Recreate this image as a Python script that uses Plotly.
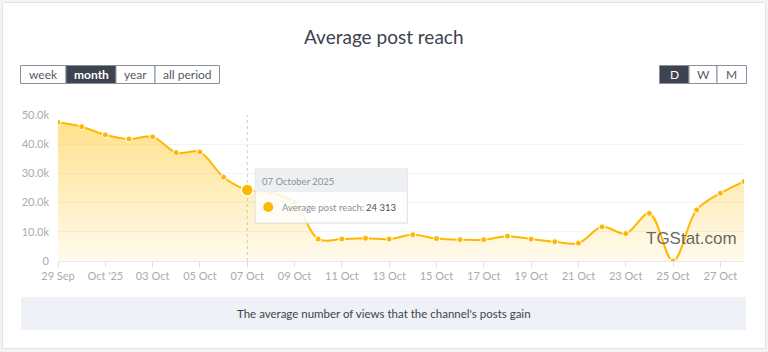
import datetime as dt
import plotly.graph_objects as go

# ---------------- data ----------------
dates = [
    "2025-09-29", "2025-09-30", "2025-10-01", "2025-10-02", "2025-10-03",
    "2025-10-04", "2025-10-05", "2025-10-06", "2025-10-07", "2025-10-08",
    "2025-10-09", "2025-10-10", "2025-10-11", "2025-10-12", "2025-10-13",
    "2025-10-14", "2025-10-15", "2025-10-16", "2025-10-17", "2025-10-18",
    "2025-10-19", "2025-10-20", "2025-10-21", "2025-10-22", "2025-10-23",
    "2025-10-24", "2025-10-25", "2025-10-26", "2025-10-27", "2025-10-28",
]
reach = [
    47500, 46000, 43200, 41800, 42500,
    37100, 37300, 28700, 24313, 23400,
    20000, 7500, 7500, 7800, 7500,
    9000, 7700, 7300, 7300, 8500,
    7500, 6600, 6100, 11700, 9400,
    16300, 0, 17500, 23200, 27200,
]
x_tick_vals = [
    "2025-09-29", "2025-10-01", "2025-10-03", "2025-10-05", "2025-10-07",
    "2025-10-09", "2025-10-11", "2025-10-13", "2025-10-15", "2025-10-17",
    "2025-10-19", "2025-10-21", "2025-10-23", "2025-10-25", "2025-10-27",
]
x_tick_text = [
    "29 Sep", "Oct '25", "03 Oct", "05 Oct", "07 Oct", "09 Oct", "11 Oct",
    "13 Oct", "15 Oct", "17 Oct", "19 Oct", "21 Oct", "23 Oct", "25 Oct", "27 Oct",
]
y_tick_vals = [0, 10000, 20000, 30000, 40000, 50000]
y_tick_text = ["0", "10.0k", "20.0k", "30.0k", "40.0k", "50.0k"]

title_text = "Average post reach"
series_name = "Average post reach"
caption_text = "The average number of views that the channel's posts gain"
watermark_text = "TGStat.com"
period_buttons = ["week", "month", "year", "all period"]
period_active = "month"
scale_buttons = ["D", "W", "M"]
scale_active = "D"
tooltip_index = 8  # 07 Oct highlighted

# ---------------- layout geometry ----------------
W, H = 768, 352
L, R, T, B = 58, 24, 115, 91
PW, PH = W - L - R, H - T - B

def px(x):
    return (x - L) / PW

def py(y):
    return (H - B - y) / PH

LINE = "#FFB800"
DARK = "#3d4350"
FONT = "Lato, Nunito, Open Sans, sans-serif"

fig = go.Figure()

fig.add_trace(go.Scatter(
    x=dates, y=reach, mode="lines+markers", name=series_name,
    line=dict(color=LINE, width=2, shape="spline", smoothing=1.0),
    marker=dict(size=6, color=LINE, line=dict(color="white", width=1)),
    fill="tozeroy",
    fillgradient=dict(
        type="vertical", start=0, stop=50000,
        colorscale=[[0, "rgba(255,190,0,0.07)"], [1, "rgba(255,190,0,0.47)"]],
    ),
    hoverinfo="skip", showlegend=False,
))

# highlighted point
fig.add_trace(go.Scatter(
    x=[dates[tooltip_index]], y=[reach[tooltip_index]], mode="markers",
    marker=dict(size=12, color=LINE, line=dict(color="white", width=1.5)),
    hoverinfo="skip", showlegend=False,
))

shapes = []
annotations = []

# card background
shapes.append(dict(type="rect", xref="paper", yref="paper",
                   x0=px(2.5), x1=px(765.5), y0=py(348.5), y1=py(2.5),
                   fillcolor="white", line=dict(color="#e1e4e8", width=1), layer="below"))

# crosshair
shapes.append(dict(type="line", xref="x", yref="paper",
                   x0=dates[tooltip_index], x1=dates[tooltip_index], y0=0, y1=1,
                   line=dict(color="#c9c9c9", width=1, dash="dot"), layer="between"))

# buttons
def button_group(labels, active, x_edges, y0, y1):
    for i, lab in enumerate(labels):
        is_act = lab == active
        shapes.append(dict(type="rect", xref="paper", yref="paper",
                           x0=px(x_edges[i]), x1=px(x_edges[i + 1]),
                           y0=py(y1), y1=py(y0),
                           fillcolor=DARK if is_act else "white",
                           line=dict(color="#8b9098", width=1), layer="above"))
        annotations.append(dict(
            xref="paper", yref="paper",
            x=px((x_edges[i] + x_edges[i + 1]) / 2), y=py((y0 + y1) / 2),
            text=f"<b>{lab}</b>" if is_act and len(lab) > 1 else lab,
            showarrow=False, xanchor="center", yanchor="middle",
            font=dict(family=FONT, size=12, color="white" if is_act else "#555a62")))

button_group(period_buttons, period_active, [20.5, 66, 116, 155, 219.5], 65.5, 83.5)
button_group(scale_buttons, scale_active, [659.5, 689, 717, 746.5], 65.5, 83.5)

# title
annotations.append(dict(xref="paper", yref="paper", x=px(384), y=py(36),
                        text=title_text, showarrow=False, xanchor="center", yanchor="middle",
                        font=dict(family=FONT, size=19, color=DARK)))

# caption box
shapes.append(dict(type="rect", xref="paper", yref="paper",
                   x0=px(21), x1=px(746), y0=py(330), y1=py(297),
                   fillcolor="#eef1f5", line=dict(width=0), layer="below"))
annotations.append(dict(xref="paper", yref="paper", x=px(383.5), y=py(313),
                        text=caption_text, showarrow=False, xanchor="center", yanchor="middle",
                        font=dict(family=FONT, size=11.5, color=DARK)))

# watermark
annotations.append(dict(xref="paper", yref="paper", x=px(691), y=py(238),
                        text=watermark_text, showarrow=False, xanchor="center", yanchor="middle",
                        font=dict(family="Liberation Sans, Arial, sans-serif", size=17,
                                  color="rgba(75,75,75,0.85)")))

# tooltip (anchored to highlighted data point, offsets in pixels)
ax_d, ay_v = dates[tooltip_index], reach[tooltip_index]
def tip_rect(x0, x1, y0, y1, fill, line_color=None, kind="rect"):
    shapes.append(dict(type=kind, xref="x", yref="y",
                       xsizemode="pixel", ysizemode="pixel",
                       xanchor=ax_d, yanchor=ay_v,
                       x0=x0, x1=x1, y0=y0, y1=y1,
                       fillcolor=fill,
                       line=dict(color=line_color or "rgba(0,0,0,0)", width=1 if line_color else 0),
                       layer="above"))

tip_rect(9, 161, -34, 20, "rgba(0,0,0,0.04)")  # soft shadow
tip_rect(8, 160, -33, 21, "rgba(255,255,255,0.86)", "#dfe2e6")
tip_rect(8.5, 159.5, -2, 20.5, "rgba(236,239,242,0.92)")
tip_rect(16, 26, -22, -12, LINE, kind="circle")

date_label = dt.datetime.strptime(ax_d, "%Y-%m-%d").strftime("%d %B %Y")
value_label = f"{ay_v:,}".replace(",", " ")
annotations.append(dict(xref="x", yref="y", x=ax_d, y=ay_v, xshift=13, yshift=9,
                        text=date_label, showarrow=False, xanchor="left", yanchor="middle",
                        font=dict(family=FONT, size=9.5, color="#8a9099")))
annotations.append(dict(xref="x", yref="y", x=ax_d, y=ay_v, xshift=33, yshift=-17,
                        text=series_name + ":", showarrow=False, xanchor="left", yanchor="middle",
                        font=dict(family=FONT, size=9.5, color="#8a9099")))
annotations.append(dict(xref="x", yref="y", x=ax_d, y=ay_v, xshift=151, yshift=-17,
                        text=value_label, showarrow=False, xanchor="right", yanchor="middle",
                        font=dict(family=FONT, size=9.5, color="#4a4f58")))

fig.update_layout(
    width=W, height=H, autosize=False,
    margin=dict(l=L, r=R, t=T, b=B, pad=0),
    paper_bgcolor="#f2f4f6", plot_bgcolor="rgba(0,0,0,0)",
    shapes=shapes, annotations=annotations, showlegend=False,
    hovermode=False,
)
fig.update_xaxes(
    range=[dates[0], dates[-1]], tickvals=x_tick_vals, ticktext=x_tick_text,
    showgrid=False, showline=True, linecolor="#e6e8eb", linewidth=1,
    ticks="outside", ticklen=5, tickcolor="#dadde1", tickwidth=1,
    tickfont=dict(family=FONT, size=11, color="#a6acb4"), zeroline=False, fixedrange=True,
)
fig.update_yaxes(
    range=[0, 50000], tickvals=y_tick_vals, ticktext=y_tick_text,
    showgrid=True, gridcolor="#f2f3f5", gridwidth=1, zeroline=False,
    showline=False, ticks="", ticklabelstandoff=8,
    tickfont=dict(family=FONT, size=11, color="#a6acb4"), fixedrange=True,
)

fig.write_html("out.html", config={"displayModeBar": False})
